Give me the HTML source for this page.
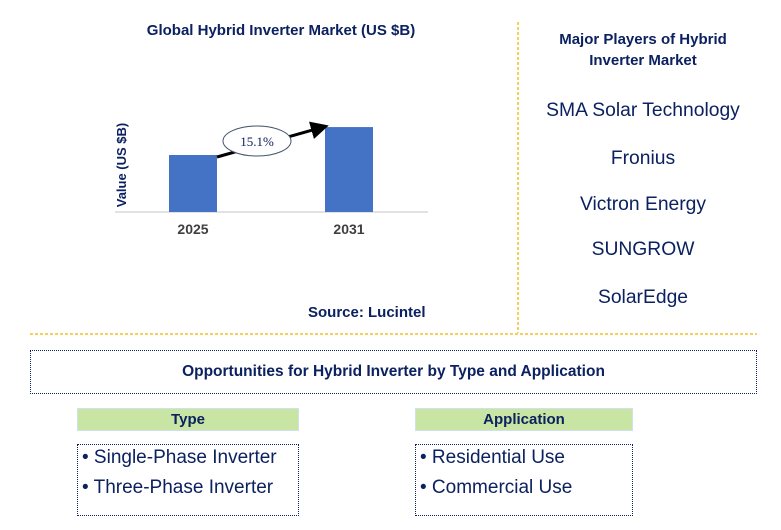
<!DOCTYPE html>
<html><head><meta charset="utf-8"><style>
body{margin:0;width:781px;height:530px;background:#fff;font-family:"Liberation Sans",Arial,sans-serif;position:relative;overflow:hidden}
.a{position:absolute}
.navy{color:#0b2160}
.player{position:absolute;left:518px;width:250px;text-align:center;font-size:19.3px;color:#0b2160}
.hdr{position:absolute;height:23px;background:#c9e5a3;border:1px solid #cfe0f0;box-sizing:border-box;text-align:center;font-weight:bold;font-size:15px;line-height:22px;color:#0b2160}
.lst{position:absolute;border:1.5px dotted #0b2160;box-sizing:border-box;font-size:19px;color:#0b2160;padding:0 0 0 4px;line-height:30px}
.lst span{display:block;margin-top:-2px}
</style></head><body>
<div class="a navy" style="left:100px;top:22px;width:362px;text-align:center;font-weight:bold;font-size:15px">Global Hybrid Inverter Market (US $B)</div>
<svg class="a" style="left:0;top:0" width="520" height="330">
<defs><marker id="ah" markerWidth="6" markerHeight="6" refX="4" refY="3" orient="auto"><path d="M0,0L6,3L0,6z" fill="#000"/></marker></defs>
<g id="g"></g>
<text x="126" y="165" transform="rotate(-90 126 165)" text-anchor="middle" font-size="13" font-weight="bold" fill="#0b2160" font-family="Liberation Sans">Value (US $B)</text>
</svg>
<div class="a navy" style="left:308px;top:304px;font-weight:bold;font-size:15px">Source: Lucintel</div>
<svg class="a" style="left:0;top:0" width="781" height="340">
<line x1="518" y1="22" x2="518" y2="333" stroke="#f5bf2a" stroke-width="1.5" stroke-dasharray="3,2"/>
<line x1="30" y1="334" x2="757" y2="334" stroke="#f5bf2a" stroke-width="1.5" stroke-dasharray="3,2"/>
</svg>
<div class="a navy" style="left:518px;top:29px;width:250px;text-align:center;font-weight:bold;font-size:15px;line-height:21px">Major Players of Hybrid<br>Inverter Market</div>
<div class="player" style="top:100px">SMA Solar Technology</div>
<div class="player" style="top:148px">Fronius</div>
<div class="player" style="top:194px">Victron Energy</div>
<div class="player" style="top:239px">SUNGROW</div>
<div class="player" style="top:287px">SolarEdge</div>
<div class="a navy" style="left:30px;top:350px;width:727px;height:44px;border:1.5px dotted #0b2160;box-sizing:border-box;text-align:center;font-weight:bold;font-size:15.5px;line-height:42px">Opportunities for Hybrid Inverter by Type and Application</div>
<div class="hdr" style="left:77px;top:408px;width:222px">Type</div>
<div class="lst" style="left:77px;top:444px;width:222px;height:72px"><span>• Single-Phase Inverter<br>• Three-Phase Inverter</span></div>
<div class="hdr" style="left:415px;top:408px;width:218px">Application</div>
<div class="lst" style="left:415px;top:444px;width:218px;height:72px"><span>• Residential Use<br>• Commercial Use</span></div>
<script>
const categories=["2025","2031"];
const values=[1.0,1.49];
const cagrLabel=["15.1%"];
const NS="http://www.w3.org/2000/svg",g=document.getElementById("g");
const base=212,scale=57,xs=[169,325],bw=48;
function y(v){return base-v*scale}
function mk(t,a){const e=document.createElementNS(NS,t);for(const k in a)e.setAttribute(k,a[k]);g.appendChild(e);return e}
const ax=mk("line",{x1:115,y1:base,x2:428,y2:base,stroke:"#d9d9d9","stroke-width":1.5});


categories.forEach((c,i)=>{
 const r=mk("rect",{x:xs[i],y:y(values[i]),width:bw,height:values[i]*scale,fill:"#4472c4"});
 
 
 const t=mk("text",{x:xs[i]+bw/2,y:base+22,"text-anchor":"middle","font-size":14,"font-weight":"bold",fill:"#404040","font-family":"Liberation Sans"});
 t.textContent=c;
 
 
});
const ar=mk("line",{x1:xs[0]+bw,y1:y(values[0])+2,x2:xs[1]-2,y2:y(values[1]),stroke:"#000","stroke-width":3,"marker-end":"url(#ah)"});


const cx=(xs[0]+bw+xs[1])/2-14,cy=(y(values[0])+y(values[1]))/2;
const el=mk("ellipse",{cx:cx,cy:cy,rx:34,ry:15,fill:"#fff",stroke:"#44546a","stroke-width":1});


const ct=mk("text",{x:cx,y:cy+5,"text-anchor":"middle","font-size":13,fill:"#0b2160","font-family":"Liberation Serif"});
ct.textContent=cagrLabel[0];


</script>
</body></html>
